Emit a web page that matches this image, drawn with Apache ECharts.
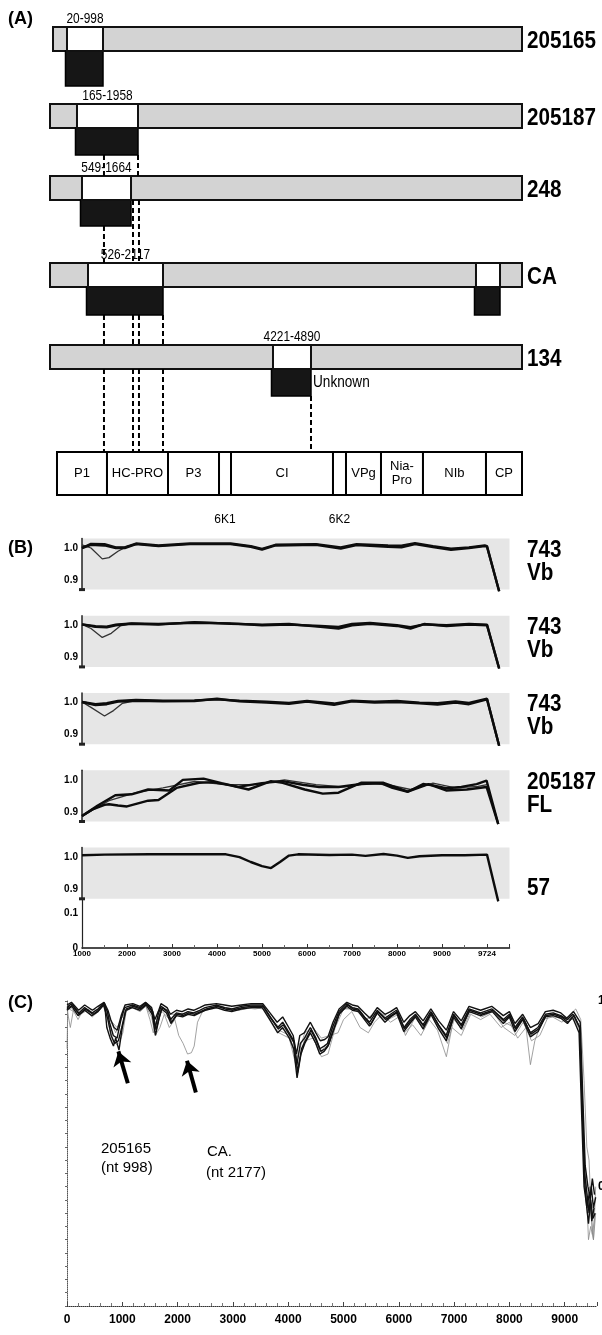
<!DOCTYPE html>
<html><head><meta charset="utf-8">
<script src="https://cdn.jsdelivr.net/npm/echarts@6.0.0/dist/echarts.min.js"></script>
<style>html,body{margin:0;padding:0;background:#fff;}#chart{width:602px;height:1335px;}</style>
</head><body><div id="chart"></div>
<script>
// ---------------- Panel A data ----------------
const isolateNames = ['205165','205187','248','CA','134'];
const rangeLabels = ['20-998','165-1958','549-1664','526-2117','4221-4890'];
const barExtent = [[62,9724],[0,9724],[0,9724],[0,9724],[0,9724]];
const recombBoxes = [[[350,1092]],[[556,1813]],[[659,1669]],[[783,2328],[8776,9271]],[[4594,5377]]];
const boxNotes = ['','','','','Unknown'];
const connectorsBelow = [[],[1112,1813],[1112,1710,1833],[1112,1710,1833,2328],[1112,1710,1833,2328,5377]];
const genomeRegions = ['P1','HC-PRO','P3','6K1','CI','6K2','VPg','Nia-\nPro','NIb','CP'];
const genomeBounds = [144,1174,2431,3482,3729,5830,6098,6819,7684,8982,9724];
const smallRegions = ['6K1','6K2'];

// ---------------- Panel B data ----------------
const bTickLabels = ['1000','2000','3000','4000','5000','6000','7000','8000','9000','9724'];
const bLabels = [['743','Vb'],['743','Vb'],['743','Vb'],['205187','FL'],['','57']];
const b1ThickA = [[0,1.0],[0.2,1.013],[0.5,1.012],[0.75,1.002],[0.95,1.002],[1.2,1.014],[1.7,1.008],[2.4,1.014],[3.3,1.014],[3.75,1.006],[4.0,0.997],[4.3,1.01],[5.2,1.012],[5.75,1.002],[6.1,1.012],[6.8,1.008],[7.1,1.007],[7.4,1.015],[7.8,1.006],[8.2,0.998],[8.6,1.002],[8.95,1.008],[9.0,1.006],[9.27,0.865]];
const b1ThickB = [[0,1.0],[0.2,1.01],[0.5,1.008],[0.75,1.0],[0.95,1.0],[1.2,1.012],[1.7,1.006],[2.4,1.012],[3.3,1.012],[3.75,1.004],[4.0,0.995],[4.3,1.008],[5.2,1.01],[5.75,0.998],[6.1,1.009],[6.8,1.004],[7.1,1.002],[7.4,1.012],[7.8,1.003],[8.2,0.994],[8.6,1.0],[8.95,1.006],[9.0,1.004],[9.27,0.865]];
const b1Thin = [[0,1.01],[0.2,1.0],[0.45,0.966],[0.6,0.97],[0.8,0.99],[1.0,1.005],[1.3,1.013]];
const b2ThickA = [[0,1.003],[0.3,0.995],[0.55,0.994],[0.75,1.0],[1.1,1.005],[1.7,1.002],[2.5,1.01],[3.3,1.005],[4.0,1.002],[4.6,1.004],[5.3,0.995],[5.7,0.99],[6.0,1.0],[6.4,1.005],[7.0,0.998],[7.3,0.99],[7.6,1.004],[8.1,0.998],[8.6,1.002],[9.0,1.0],[9.27,0.865]];
const b2ThickB = [[0,1.003],[0.3,0.997],[0.55,0.996],[0.75,1.002],[1.1,1.006],[1.7,1.004],[2.5,1.008],[3.3,1.006],[4.0,1.0],[4.6,1.002],[5.3,0.998],[5.7,0.995],[6.0,1.004],[6.4,1.007],[7.0,1.0],[7.3,0.994],[7.6,1.003],[8.1,1.0],[8.6,1.004],[9.0,1.002],[9.27,0.865]];
const b2Thin = [[0,1.003],[0.2,0.99],[0.45,0.962],[0.65,0.975],[0.85,0.998],[1.1,1.005]];
const b3ThickA = [[0,1.002],[0.3,0.992],[0.55,0.995],[0.8,1.003],[1.2,1.006],[1.8,1.004],[2.5,1.005],[3.0,1.012],[3.5,1.004],[4.1,1.0],[4.6,0.996],[5.0,1.003],[5.6,0.993],[6.0,1.004],[6.5,1.0],[7.0,1.002],[7.5,0.998],[7.9,0.994],[8.3,1.0],[8.6,0.995],[9.0,1.01],[9.27,0.865]];
const b3ThickB = [[0,1.002],[0.3,0.995],[0.55,0.998],[0.8,1.005],[1.2,1.008],[1.8,1.006],[2.5,1.007],[3.0,1.01],[3.5,1.006],[4.1,1.003],[4.6,0.999],[5.0,1.005],[5.6,0.997],[6.0,1.006],[6.5,1.003],[7.0,1.005],[7.5,1.0],[7.9,0.998],[8.3,1.004],[8.6,0.999],[9.0,1.012],[9.27,0.865]];
const b3Thin = [[0,1.002],[0.2,0.985],[0.5,0.958],[0.7,0.975],[0.9,0.998],[1.2,1.006]];
const b4LineA = [[0,0.887],[0.35,0.92],[0.74,0.952],[1.1,0.955],[1.47,0.97],[1.94,0.967],[2.24,1.0],[2.7,1.004],[3.1,0.99],[3.47,0.978],[4.0,0.99],[4.46,0.996],[4.9,0.985],[5.27,0.978],[5.7,0.978],[6.21,0.987],[6.64,0.99],[6.9,0.975],[7.24,0.963],[7.58,0.987],[7.8,0.983],[8.09,0.974],[8.43,0.978],[8.77,0.987],[8.99,0.998],[9.25,0.862]];
const b4LineB = [[0,0.887],[0.25,0.909],[0.5,0.922],[0.6,0.924],[0.8,0.92],[1.0,0.917],[1.47,0.935],[1.7,0.937],[2.1,0.975],[2.6,0.991],[2.9,0.993],[3.3,0.983],[3.7,0.97],[4.2,0.996],[4.46,0.991],[4.95,0.97],[5.35,0.957],[5.7,0.96],[6.2,0.991],[6.7,0.991],[7.24,0.963],[7.7,0.987],[8.09,0.967],[8.55,0.97],[8.99,0.978],[9.25,0.862]];
const b4Thin = [[0,0.887],[0.6,0.935],[1.2,0.96],[1.8,0.975],[2.5,0.995],[3.2,0.985],[3.8,0.985],[4.5,1.0],[5.2,0.985],[5.8,0.978],[6.3,0.988],[6.8,0.985],[7.3,0.97],[7.8,0.99],[8.3,0.975],[8.8,0.98],[9.0,0.985]];
const b5Line = [[0,1.006],[0.5,1.008],[1.5,1.009],[2.5,1.009],[3.2,1.009],[3.5,1.0],[3.75,0.985],[4.0,0.972],[4.2,0.966],[4.4,0.985],[4.6,1.005],[4.8,1.009],[5.5,1.007],[6.0,1.008],[6.3,1.004],[6.7,1.01],[7.0,1.005],[7.24,0.998],[7.5,1.003],[8.0,1.006],[8.5,1.006],[9.0,1.008],[9.25,0.862]];

// ---------------- Panel C data ----------------
const cTickLabels = ['0','1000','2000','3000','4000','5000','6000','7000','8000','9000'];
const cBand1 = [[0,0.975],[76,0.99],[214,0.955],[318,0.975],[457,0.955],[561,0.97],[664,0.993],[730,0.96],[768,0.92],[837,0.87],[906,0.86],[975,0.93],[1045,0.975],[1183,0.985],[1321,0.975],[1425,0.993],[1529,0.965],[1597,0.9],[1650,0.95],[1702,0.98],[1806,0.965],[1874,0.93],[1978,0.955],[2083,0.95],[2186,0.96],[2290,0.955],[2400,0.965],[2497,0.975],[2705,0.985],[2850,0.975],[2982,0.97],[3150,0.98],[3327,0.985],[3535,0.985],[3673,0.94],[3811,0.9],[3900,0.92],[4019,0.88],[4100,0.85],[4158,0.76],[4220,0.84],[4295,0.86],[4400,0.9],[4503,0.86],[4572,0.82],[4650,0.83],[4710,0.84],[4800,0.9],[4918,0.96],[5057,0.99],[5160,0.975],[5265,0.97],[5380,0.94],[5472,0.92],[5610,0.965],[5748,0.935],[5850,0.95],[5956,0.965],[6094,0.9],[6200,0.93],[6302,0.95],[6439,0.91],[6579,0.96],[6717,0.91],[6856,0.87],[6993,0.95],[7131,0.91],[7270,0.97],[7478,0.955],[7685,0.97],[7892,0.93],[8000,0.95],[8101,0.9],[8238,0.94],[8378,0.88],[8516,0.9],[8654,0.95],[8792,0.955],[8930,0.945],[9050,0.93],[9150,0.95],[9270,0.9],[9320,0.6],[9360,0.35],[9400,0.28],[9440,0.2],[9480,0.3],[9520,0.22],[9560,0.26]];
const cBand2 = [[0,0.965],[90,0.98],[200,0.945],[320,0.965],[450,0.945],[560,0.96],[660,0.985],[740,0.93],[800,0.87],[860,0.84],[930,0.85],[990,0.9],[1060,0.965],[1180,0.975],[1320,0.965],[1430,0.985],[1540,0.95],[1600,0.87],[1660,0.93],[1710,0.97],[1800,0.955],[1880,0.915],[1980,0.945],[2090,0.94],[2190,0.95],[2300,0.945],[2400,0.955],[2500,0.965],[2700,0.975],[2850,0.965],[2980,0.96],[3150,0.97],[3330,0.975],[3530,0.975],[3680,0.925],[3810,0.88],[3900,0.9],[4020,0.86],[4100,0.82],[4160,0.71],[4230,0.8],[4300,0.84],[4400,0.88],[4500,0.84],[4570,0.8],[4650,0.81],[4720,0.83],[4800,0.88],[4920,0.95],[5060,0.98],[5160,0.965],[5270,0.96],[5380,0.93],[5470,0.905],[5610,0.955],[5750,0.92],[5850,0.94],[5960,0.955],[6090,0.885],[6200,0.915],[6300,0.94],[6440,0.895],[6580,0.95],[6720,0.895],[6860,0.85],[6990,0.94],[7130,0.895],[7270,0.96],[7480,0.945],[7690,0.96],[7890,0.915],[8000,0.94],[8100,0.885],[8240,0.93],[8380,0.865],[8520,0.885],[8650,0.94],[8790,0.945],[8930,0.935],[9050,0.915],[9140,0.94],[9260,0.88],[9310,0.55],[9350,0.3],[9390,0.24],[9430,0.16],[9470,0.25],[9510,0.18],[9550,0.2]];
const cBand3 = [[0,0.985],[80,0.995],[210,0.965],[320,0.985],[460,0.965],[560,0.98],[670,0.995],[740,0.965],[790,0.93],[850,0.9],[910,0.89],[980,0.945],[1050,0.985],[1190,0.99],[1320,0.98],[1420,0.995],[1530,0.975],[1590,0.93],[1650,0.96],[1700,0.99],[1810,0.975],[1870,0.95],[1980,0.965],[2080,0.96],[2190,0.97],[2290,0.965],[2400,0.975],[2500,0.985],[2700,0.99],[2850,0.985],[2980,0.98],[3150,0.985],[3330,0.99],[3540,0.99],[3670,0.955],[3800,0.92],[3900,0.94],[4010,0.9],[4090,0.87],[4150,0.8],[4210,0.87],[4290,0.88],[4400,0.92],[4500,0.88],[4580,0.85],[4660,0.855],[4720,0.865],[4810,0.92],[4920,0.97],[5060,0.995],[5160,0.985],[5260,0.98],[5380,0.955],[5480,0.935],[5610,0.975],[5750,0.95],[5850,0.96],[5960,0.975],[6090,0.92],[6200,0.945],[6300,0.96],[6440,0.925],[6580,0.97],[6720,0.925],[6860,0.89],[6990,0.96],[7130,0.925],[7270,0.98],[7480,0.965],[7680,0.98],[7890,0.945],[8000,0.96],[8100,0.915],[8240,0.95],[8380,0.9],[8520,0.915],[8650,0.96],[8790,0.965],[8930,0.955],[9040,0.935],[9160,0.96],[9280,0.92],[9330,0.62],[9370,0.38],[9420,0.3],[9460,0.26],[9500,0.33],[9540,0.27]];
const cBand4 = [[0,0.97],[100,0.985],[220,0.95],[330,0.97],[470,0.95],[570,0.965],[680,0.99],[720,0.9],[780,0.86],[840,0.83],[880,0.86],[940,0.815],[1000,0.9],[1070,0.97],[1200,0.98],[1330,0.97],[1440,0.99],[1550,0.96],[1610,0.89],[1670,0.94],[1720,0.975],[1820,0.96],[1890,0.92],[1990,0.95],[2100,0.945],[2200,0.955],[2310,0.95],[2420,0.96],[2520,0.97],[2720,0.98],[2860,0.97],[2990,0.965],[3160,0.975],[3340,0.98],[3550,0.98],[3690,0.935],[3820,0.895],[3910,0.91],[4030,0.87],[4110,0.84],[4170,0.73],[4240,0.82],[4310,0.85],[4410,0.89],[4510,0.85],[4590,0.81],[4670,0.82],[4730,0.835],[4820,0.89],[4930,0.955],[5070,0.985],[5170,0.97],[5280,0.965],[5390,0.935],[5490,0.91],[5620,0.96],[5760,0.93],[5860,0.945],[5970,0.96],[6100,0.895],[6210,0.925],[6310,0.945],[6450,0.905],[6590,0.955],[6730,0.905],[6870,0.86],[7000,0.945],[7140,0.905],[7280,0.965],[7490,0.95],[7700,0.965],[7900,0.925],[8010,0.945],[8110,0.895],[8250,0.935],[8390,0.875],[8530,0.895],[8660,0.945],[8800,0.95],[8940,0.94],[9060,0.92],[9170,0.945],[9270,0.9],[9320,0.58],[9360,0.32],[9400,0.22],[9450,0.28],[9490,0.17],[9530,0.22]];
const cThin205165 = [[0,0.82],[15,0.985],[100,0.97],[200,0.93],[300,0.97],[450,0.955],[560,0.97],[664,0.99],[720,0.95],[790,0.87],[850,0.845],[900,0.835],[950,0.845],[1010,0.88],[1070,0.96],[1190,0.98],[1320,0.97],[1430,0.985],[1530,0.96],[1600,0.9],[1700,0.97],[1850,0.95],[1990,0.95],[2190,0.955],[2400,0.96],[2600,0.975],[2850,0.975],[3100,0.97],[3350,0.98],[3550,0.98],[3680,0.935],[3830,0.89],[4030,0.87],[4170,0.75],[4300,0.86],[4430,0.89],[4570,0.81],[4700,0.83],[4830,0.91],[4960,0.97],[5200,0.975],[5420,0.93],[5620,0.96],[5800,0.94],[5980,0.96],[6100,0.9],[6300,0.945],[6440,0.9],[6600,0.955],[6720,0.9],[6860,0.86],[7000,0.945],[7140,0.9],[7280,0.965],[7500,0.95],[7700,0.96],[7900,0.92],[8100,0.9],[8250,0.935],[8390,0.87],[8520,0.89],[8660,0.945],[8800,0.95],[9000,0.935],[9160,0.95],[9280,0.9],[9330,0.55],[9370,0.3],[9410,0.2],[9450,0.3],[9500,0.12],[9540,0.18]];
const cThinCA = [[0,0.975],[120,0.96],[214,0.945],[320,0.965],[457,0.94],[561,0.96],[664,0.985],[768,0.93],[906,0.9],[1045,0.96],[1183,0.975],[1321,0.96],[1425,0.98],[1529,0.94],[1597,0.87],[1680,0.9],[1760,0.95],[1850,0.9],[1950,0.93],[2020,0.87],[2100,0.84],[2180,0.8],[2250,0.805],[2300,0.83],[2360,0.92],[2450,0.96],[2600,0.975],[2800,0.98],[3000,0.965],[3200,0.975],[3400,0.97],[3550,0.975],[3700,0.92],[3830,0.88],[4020,0.86],[4160,0.74],[4300,0.85],[4450,0.86],[4600,0.79],[4720,0.8],[4850,0.9],[5000,0.97],[5200,0.97],[5400,0.93],[5600,0.96],[5800,0.93],[6000,0.95],[6120,0.87],[6300,0.94],[6450,0.89],[6600,0.95],[6750,0.89],[6880,0.84],[7000,0.93],[7150,0.89],[7300,0.96],[7500,0.94],[7700,0.96],[7900,0.9],[8100,0.87],[8250,0.92],[8400,0.85],[8550,0.87],[8700,0.94],[8900,0.94],[9100,0.93],[9180,0.93],[9290,0.88],[9340,0.5],[9390,0.3],[9430,0.1],[9470,0.15],[9520,0.1],[9560,0.2]];
const cThinOther = [[0,0.97],[60,0.9],[120,0.97],[250,0.95],[400,0.97],[560,0.965],[660,0.985],[760,0.94],[880,0.88],[1000,0.94],[1150,0.98],[1300,0.97],[1420,0.985],[1500,0.93],[1560,0.88],[1620,0.93],[1720,0.96],[1860,0.93],[1990,0.95],[2200,0.95],[2400,0.96],[2600,0.97],[2850,0.975],[3100,0.965],[3350,0.975],[3550,0.97],[3700,0.93],[3850,0.9],[4000,0.88],[4150,0.78],[4300,0.88],[4450,0.9],[4600,0.86],[4750,0.87],[4900,0.88],[5000,0.93],[5150,0.96],[5300,0.9],[5450,0.88],[5560,0.92],[5700,0.95],[5850,0.92],[6000,0.94],[6100,0.88],[6250,0.91],[6400,0.87],[6550,0.93],[6700,0.89],[6860,0.79],[6960,0.9],[7130,0.87],[7300,0.95],[7480,0.93],[7650,0.95],[7850,0.9],[8000,0.92],[8150,0.86],[8300,0.9],[8380,0.76],[8460,0.85],[8600,0.93],[8780,0.94],[8950,0.92],[9100,0.95],[9200,0.97],[9290,0.93],[9350,0.7],[9400,0.45],[9440,0.4],[9480,0.2],[9520,0.1],[9560,0.3]];
const cArrows = [[[1100,0.69],[930,0.81]],[[2330,0.655],[2170,0.775]]];
const cNotes = [['205165','(nt 998)'],['CA.','(nt 2177)']];

// ---------------- Layout & styles ----------------
const NARROW = "'Liberation Sans',Arial,sans-serif";
const ARIAL = "'Liberation Sans',Arial,sans-serif";
const A = {top:[27,104,176,263,345], barH:24, darkH:[35,27,26,28,27], mapTop:452, mapH:43, smallLabelY:520, nameX:527};
const GRAY_A = '#d3d3d3', GRAY_B = '#e6e6e6';
const B = {left:82, width:427.5, top0:538.4, step:77.3, h:51.2};
const C = {left:67, top:1001, width:530, height:305};

function textEl(text, x, y, size, weight, align, sx){
  return {type:'text', x, y, scaleX: sx||1, style:{text, x:0, y:0, align, verticalAlign:'middle', fontSize:size, fontWeight:weight, fontFamily:ARIAL, fill:'#000'}};
}
function renderRow(params, api){
  const i = api.value(2);
  const top = A.top[i], bot = top + A.barH;
  const xs = v => api.coord([v, 0])[0];
  const bx0 = xs(api.value(0)), bx1 = xs(api.value(1));
  const kids = [{type:'rect', shape:{x:bx0,y:top,width:bx1-bx0,height:A.barH}, style:{fill:GRAY_A, stroke:'#111', lineWidth:2}}];
  recombBoxes[i].forEach((b,k)=>{
    const x0 = xs(b[0]), x1 = xs(b[1]);
    kids.push({type:'rect', shape:{x:x0-1.5,y:bot,width:x1-x0+1.5,height:A.darkH[i]}, style:{fill:'#161616', stroke:'#000', lineWidth:1.5}});
    kids.push({type:'rect', shape:{x:x0,y:top,width:x1-x0,height:A.barH}, style:{fill:'#fff', stroke:'#111', lineWidth:2}});
    if(k===0){
      kids.push(textEl(rangeLabels[i], (x0+x1)/2, top-8, 14, 'normal', 'center', 0.85));
      if(boxNotes[i]) kids.push(textEl(boxNotes[i], x1+2, bot+A.darkH[i]/2, 16, 'normal', 'left', 0.85));
    }
  });
  kids.push(textEl(isolateNames[i], A.nameX, (top+bot)/2+2, 24, 'bold', 'left', 0.86));
  return {type:'group', children:kids};
}
function renderConn(params, api){
  const v = api.value(0), i = api.value(2);
  const x = api.coord([v,0])[0];
  const barBot = A.top[i] + A.barH;
  const inBox = recombBoxes[i].some(b => v >= b[0]-5 && v <= b[1]+5);
  const y0 = inBox ? barBot + A.darkH[i] : barBot;
  const y1 = i+1 < A.top.length ? A.top[i+1] : A.mapTop;
  return {type:'line', shape:{x1:x,y1:y0,x2:x,y2:y1}, style:{stroke:'#000', lineWidth:2, lineDash:[5,3]}};
}
function renderMap(params, api){
  const x0 = api.coord([api.value(0),0])[0], x1 = api.coord([api.value(1),0])[0];
  const name = genomeRegions[params.dataIndex];
  const small = smallRegions.includes(name);
  return {type:'group', children:[
    {type:'rect', shape:{x:x0,y:A.mapTop,width:x1-x0,height:A.mapH}, style:{fill:'#fff', stroke:'#000', lineWidth:2}},
    {type:'text', style:{text:name, x:(x0+x1)/2, y: small ? A.smallLabelY : A.mapTop + A.mapH/2, align:'center', verticalAlign:'middle', fontSize: small?12:13, fontFamily:ARIAL, fill:'#000', lineHeight:14}}
  ]};
}

const grids = [{left:50, top:0, width:472, height:500, outerBoundsMode:'none'}];
const xAxes = [{gridIndex:0, type:'value', min:0, max:9724, show:false}];
const yAxes = [{gridIndex:0, type:'value', min:0, max:500, inverse:true, show:false}];
const near = (a,b)=>Math.abs(a-b)<1e-6;
for(let i=0;i<5;i++){
  grids.push({left:B.left, top:B.top0+B.step*i, width:B.width, height:B.h, show:true, backgroundColor:GRAY_B, borderWidth:0, outerBoundsMode:'none'});
  xAxes.push({gridIndex:i+1, type:'value', min:0, max:9.5, show:false});
  yAxes.push({gridIndex:i+1, type:'value', min:0.87, max:1.03, interval:0.01, splitLine:{show:false}, axisTick:{show:false},
    axisLine:{show:true, lineStyle:{color:'#222', width:1.5}, symbol:['rect','none'], symbolSize:[6,3]},
    axisLabel:{margin:4, color:'#000', fontSize:10, fontWeight:'bold', fontFamily:ARIAL, formatter:v=>near(v,1)?'1.0':near(v,0.9)?'0.9':''}});
}
grids.push({left:B.left, top:899, width:B.width, height:49, outerBoundsMode:'none'});
xAxes.push({gridIndex:6, type:'value', min:0, max:9.5, interval:1, splitLine:{show:false},
  axisLine:{onZero:false, lineStyle:{color:'#111', width:1.5}}, axisTick:{show:true, inside:true, length:4, lineStyle:{color:'#333'}},
  minorTick:{show:true, splitNumber:2, length:3, lineStyle:{color:'#666'}},
  axisLabel:{showMaxLabel:false, margin:2, fontSize:8, fontWeight:'bold', fontFamily:NARROW, color:'#000', formatter:v=>bTickLabels[Math.round(v)]||''}});
yAxes.push({gridIndex:6, type:'value', min:0, max:0.14, interval:0.1, splitLine:{show:false}, axisTick:{show:false},
  axisLine:{show:true, lineStyle:{color:'#222', width:1.2}},
  axisLabel:{showMaxLabel:false, margin:4, color:'#000', fontSize:10, fontWeight:'bold', fontFamily:ARIAL, formatter:v=>near(v,0)?'0':near(v,0.1)?'0.1':''}});
grids.push({left:C.left, top:C.top, width:C.width, height:C.height, outerBoundsMode:'none'});
xAxes.push({gridIndex:7, type:'value', min:0, max:9584, interval:1000, splitLine:{show:false},
  axisLine:{onZero:false, lineStyle:{color:'#333', width:1, type:'dotted'}}, axisTick:{show:true, inside:true, length:4, lineStyle:{color:'#444'}},
  minorTick:{show:true, splitNumber:5, length:3, lineStyle:{color:'#777'}},
  axisLabel:{showMaxLabel:false, margin:8, fontSize:12, fontWeight:'bold', fontFamily:NARROW, color:'#000', formatter:v=>cTickLabels[Math.round(v/1000)]||''}});
yAxes.push({gridIndex:7, type:'value', position:'right', min:-0.15, max:1, interval:0.05, splitLine:{show:false},
  axisLine:{show:true, lineStyle:{color:'#555', width:1, type:'dotted'}}, axisTick:{show:true, inside:true, length:2, lineStyle:{color:'#666'}},
  axisLabel:{margin:1, fontSize:12, fontWeight:'bold', fontFamily:ARIAL, color:'#000', formatter:v=>near(v,1)?'1':near(v,0.3)?'0.3':''}});

const series = [];
series.push({type:'custom', xAxisIndex:0, yAxisIndex:0, renderItem:renderRow, clip:false, encode:{x:[0,1], y:2},
  data: isolateNames.map((n,i)=>[barExtent[i][0], barExtent[i][1], i])});
const connData = [];
connectorsBelow.forEach((arr,i)=>arr.forEach(x=>connData.push([x,x,i])));
series.push({type:'custom', xAxisIndex:0, yAxisIndex:0, renderItem:renderConn, clip:false, encode:{x:[0,1], y:2}, data:connData});
series.push({type:'custom', xAxisIndex:0, yAxisIndex:0, renderItem:renderMap, clip:false, encode:{x:[0,1], y:2},
  data: genomeRegions.map((n,i)=>[genomeBounds[i], genomeBounds[i+1], 5])});

const bSets = [[b1Thin,b1ThickB,b1ThickA],[b2Thin,b2ThickB,b2ThickA],[b3Thin,b3ThickB,b3ThickA],[b4Thin,b4LineB,b4LineA],[b5Line]];
bSets.forEach((set,i)=>set.forEach((d,k)=>{
  const thin = (set.length===3 && k===0);
  series.push({type:'line', xAxisIndex:i+1, yAxisIndex:i+1, data:d, showSymbol:false, clip:false,
    lineStyle:{color: thin?'#333':'#0c0c0c', width: thin?1.3:2.4}});
}));
[cThinOther,cThinCA,cThin205165].forEach(d=>series.push({type:'line', xAxisIndex:7, yAxisIndex:7, data:d, showSymbol:false,
  lineStyle:{color:'#8a8a8a', width:0.8}}));
[cBand1,cBand2,cBand3,cBand4].forEach(d=>series.push({type:'line', xAxisIndex:7, yAxisIndex:7, data:d, showSymbol:false,
  lineStyle:{color:'#111', width:1.4}}));
series.push({type:'lines', coordinateSystem:'cartesian2d', xAxisIndex:7, yAxisIndex:7, symbol:['none','arrow'], symbolSize:14,
  lineStyle:{color:'#000', width:4, opacity:1}, data: cArrows.map(c=>({coords:c}))});

const graphic = [];
const gtext = (text,x,y,size,weight,sx)=>graphic.push({type:'text', x, y, scaleX:sx||1, style:{text, x:0, y:0, fontSize:size, fontWeight:weight, fontFamily:ARIAL, fill:'#000', align:'left', verticalAlign:'middle'}});
gtext('(A)',8,19,18,'bold');
gtext('(B)',8,548,18,'bold');
gtext('(C)',8,1003,18,'bold');
bLabels.forEach((pair,i)=>{
  const y1 = B.top0 + B.step*i + B.h*(0.03/0.16);
  if(pair[0]) gtext(pair[0],527,y1+2,24,'bold',0.86);
  gtext(pair[1],527,y1+(i===4?31:25),24,'bold',0.86);
});
gtext(cNotes[0][0],101,1149,15,'normal');
gtext(cNotes[0][1],101,1168,15,'normal');
gtext(cNotes[1][0],207,1152,15,'normal');
gtext(cNotes[1][1],206,1173,15,'normal');

const chart = echarts.init(document.getElementById('chart'), null, {renderer:'canvas'});
chart.setOption({animation:false, backgroundColor:'#fff', grid:grids, xAxis:xAxes, yAxis:yAxes, series, graphic});
</script></body></html>
